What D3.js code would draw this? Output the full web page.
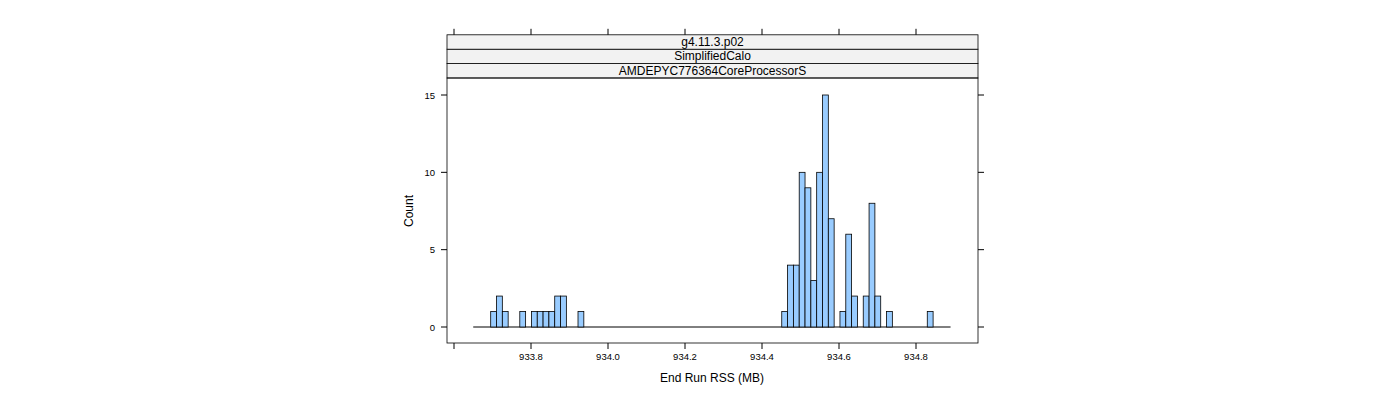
<!DOCTYPE html>
<html><head><meta charset="utf-8">
<script src="https://cdn.jsdelivr.net/npm/d3@7"></script>
<style>body{margin:0;background:#fff}text{font-family:"Liberation Sans",Arial,sans-serif}</style>
</head><body><svg id="c" width="1400" height="400"></svg>
<script>
const strips = ["g4.11.3.p02","SimplifiedCalo","AMDEPYC776364CoreProcessorS"];
const binStart = 933.6953;
const binWidth = 0.01512;
const firstBin = -3, lastBin = 79;
// bin index -> count (non-zero bins)
const binIndex = [0,1,2,5,7,8,9,10,11,12,15,50,51,52,53,54,55,56,57,58,60,61,62,64,65,66,68,75];
const counts   = [1,2,1,1,1,1,1,1,2,2,1,1,4,4,10,9,3,10,15,7,1,6,2,2,8,2,1,1];
const xTicks = [933.6,933.8,934.0,934.2,934.4,934.6,934.8];
const xLabels = ["","933.8","934.0","934.2","934.4","934.6","934.8"];
const yTicks = [0,5,10,15];

const svg = d3.select("#c");
const L=447,R=978,T=78,B=343;
const x = d3.scaleLinear().domain([933.8,934.8]).range([531,916]);
const y = d3.scaleLinear().domain([0,15]).range([327,95]);

// strips
strips.slice().reverse().forEach((s,i)=>{
  const y0 = T - (i+1)*14.4;
  svg.append("rect").attr("x",L).attr("y",y0).attr("width",R-L).attr("height",14.4)
    .attr("fill","#f2f2f2").attr("stroke","#000").attr("stroke-width",0.8);
  svg.append("text").attr("x",(L+R)/2).attr("y",y0+11).attr("text-anchor","middle")
    .attr("font-size",12).text(s);
});
svg.append("rect").attr("x",L).attr("y",T).attr("width",R-L).attr("height",B-T)
  .attr("fill","none").attr("stroke","#000").attr("stroke-width",0.8);

// baseline
svg.append("line").attr("x1",x(binStart+firstBin*binWidth)).attr("x2",x(binStart+lastBin*binWidth))
  .attr("y1",y(0)).attr("y2",y(0)).attr("stroke","#000");

// bars
svg.selectAll("rect.bar").data(binIndex.map((b,i)=>({b,c:counts[i]}))).enter().append("rect")
  .attr("class","bar")
  .attr("x",d=>x(binStart+d.b*binWidth)).attr("width",d=>x(binStart+(d.b+1)*binWidth)-x(binStart+d.b*binWidth))
  .attr("y",d=>y(d.c)).attr("height",d=>y(0)-y(d.c))
  .attr("fill","#99ccff").attr("stroke","#000").attr("stroke-width",0.8);

// x ticks bottom and top
const topY = T - 3*14.4;
xTicks.forEach((t,i)=>{
  svg.append("line").attr("x1",x(t)).attr("x2",x(t)).attr("y1",B).attr("y2",B+6).attr("stroke","#000");
  svg.append("line").attr("x1",x(t)).attr("x2",x(t)).attr("y1",topY).attr("y2",topY-6).attr("stroke","#000");
  if(xLabels[i]) svg.append("text").attr("x",x(t)).attr("y",B+17).attr("text-anchor","middle")
    .attr("font-size",9.5).text(xLabels[i]);
});
yTicks.forEach(t=>{
  svg.append("line").attr("x1",L-6).attr("x2",L).attr("y1",y(t)).attr("y2",y(t)).attr("stroke","#000");
  svg.append("line").attr("x1",R).attr("x2",R+6).attr("y1",y(t)).attr("y2",y(t)).attr("stroke","#000");
  svg.append("text").attr("x",L-12).attr("y",y(t)+3.5).attr("text-anchor","end")
    .attr("font-size",9.5).text(t);
});
svg.append("text").attr("x",712).attr("y",382).attr("text-anchor","middle").attr("font-size",12).text("End Run RSS (MB)");
svg.append("text").attr("transform","translate(413,211) rotate(-90)").attr("text-anchor","middle").attr("font-size",12).text("Count");
</script></body></html>
